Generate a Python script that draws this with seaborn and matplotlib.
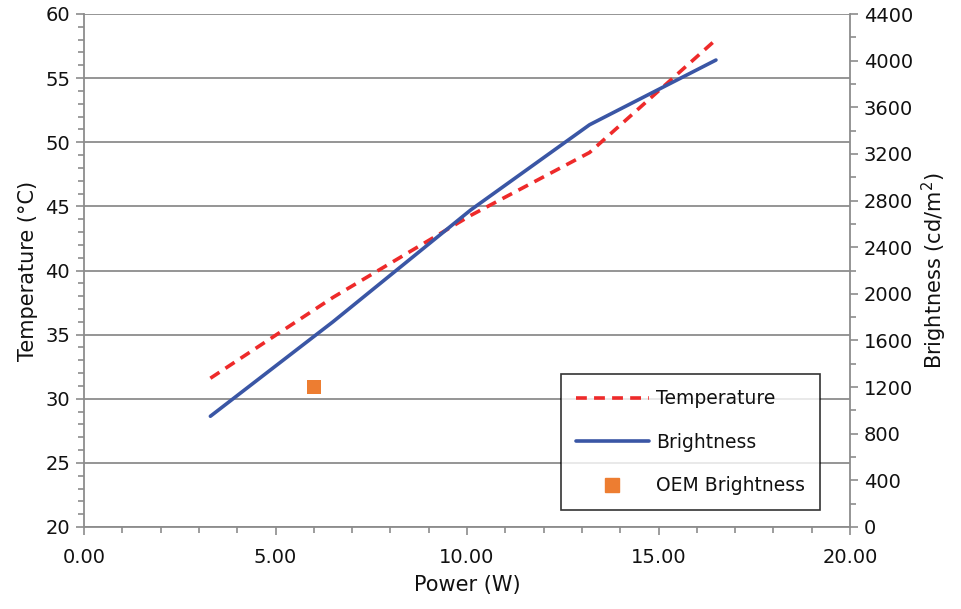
import matplotlib
matplotlib.use("Agg")
import matplotlib.pyplot as plt
import seaborn as sns
import pandas as pd
from matplotlib.ticker import MultipleLocator, FormatStrFormatter
from matplotlib.lines import Line2D

# data
power = [3.3, 6.5, 10.1, 13.2, 16.5]
temperature = [31.6, 37.9, 44.3, 49.2, 58.0]
brightness = [950, 1760, 2720, 3450, 4005]
oem_power = [6.0]
oem_brightness = [1200]

sns.set_theme(style="white")
plt.rcParams['font.family'] = ['DejaVu Sans']
plt.rcParams['text.color'] = '#111111'
plt.rcParams['axes.labelcolor'] = '#111111'
plt.rcParams['xtick.labelcolor'] = '#111111'
plt.rcParams['ytick.labelcolor'] = '#111111'

grey = '#8c8c8c'
red = '#ee2a2a'
blue = '#3a56a5'
orange = '#ed7d31'

df = pd.DataFrame({'power': power, 'temperature': temperature, 'brightness': brightness})

fig = plt.figure(figsize=(9.61, 6.09), dpi=100)
ax = fig.add_axes([84 / 961, 1 - 527 / 609, (850 - 84) / 961, (527 - 14) / 609])
ax2 = ax.twinx()

sns.lineplot(data=df, x='power', y='temperature', ax=ax, color=red, linewidth=2.6,
             linestyle=(0, (3, 2)), legend=False, zorder=3)
sns.lineplot(data=df, x='power', y='brightness', ax=ax2, color=blue, linewidth=2.6,
             legend=False, zorder=3)
sns.scatterplot(x=oem_power, y=oem_brightness, ax=ax2, color=orange, marker='s', s=110,
                edgecolor='none', zorder=4)

ax.set_xlim(0, 20)
ax.set_ylim(20, 60)
ax2.set_ylim(0, 4400)
ax.xaxis.set_major_locator(MultipleLocator(5))
ax.xaxis.set_minor_locator(MultipleLocator(1))
ax.xaxis.set_major_formatter(FormatStrFormatter('%.2f'))
ax.yaxis.set_major_locator(MultipleLocator(5))
ax.yaxis.set_minor_locator(MultipleLocator(1))
ax2.yaxis.set_major_locator(MultipleLocator(400))
ax2.yaxis.set_minor_locator(MultipleLocator(200))

ax.yaxis.grid(True, which='major', color=grey, linewidth=1.3)
ax.set_axisbelow(True)

for a in (ax, ax2):
    for s in a.spines.values():
        s.set_color(grey)
        s.set_linewidth(1.3)
    a.spines['top'].set_visible(False)
ax.spines['right'].set_visible(False)
ax2.spines['left'].set_visible(False)
ax2.spines['bottom'].set_visible(False)

ax.tick_params(axis='both', which='major', direction='out', length=6, width=1.2,
               color=grey, labelsize=14, pad=4, left=True, bottom=True)
ax.tick_params(axis='both', which='minor', direction='out', length=4, width=1.2,
               color=grey, left=True, bottom=True)
ax2.tick_params(axis='y', which='major', direction='out', length=6, width=1.2,
                color=grey, labelsize=14, pad=4, right=True)
ax2.tick_params(axis='y', which='minor', direction='out', length=4, width=1.2,
                color=grey, right=True)
ax.tick_params(axis='x', pad=9)

ax.set_xlabel('Power (W)', fontsize=15, labelpad=6)
ax.set_ylabel('Temperature (\u00b0C)', fontsize=15, labelpad=5)
ax2.set_ylabel('Brightness (cd/m$^2$)', fontsize=15, labelpad=5)

handles = [
    Line2D([], [], color=red, linewidth=2.6, linestyle=(0, (3, 2))),
    Line2D([], [], color=blue, linewidth=2.6),
    Line2D([], [], color=orange, marker='s', markersize=10, linestyle='none'),
]
leg = ax2.legend(handles, ['Temperature', 'Brightness', 'OEM Brightness'],
                 loc='lower right', bbox_to_anchor=(0.961, 0.033), fontsize=13.5,
                 frameon=True, fancybox=False, handlelength=3.9, labelspacing=1.3,
                 borderpad=0.8, handletextpad=0.4, borderaxespad=0)
leg.get_frame().set_edgecolor('black')
leg.get_frame().set_linewidth(1.2)

fig.savefig('out.png', dpi=100)
